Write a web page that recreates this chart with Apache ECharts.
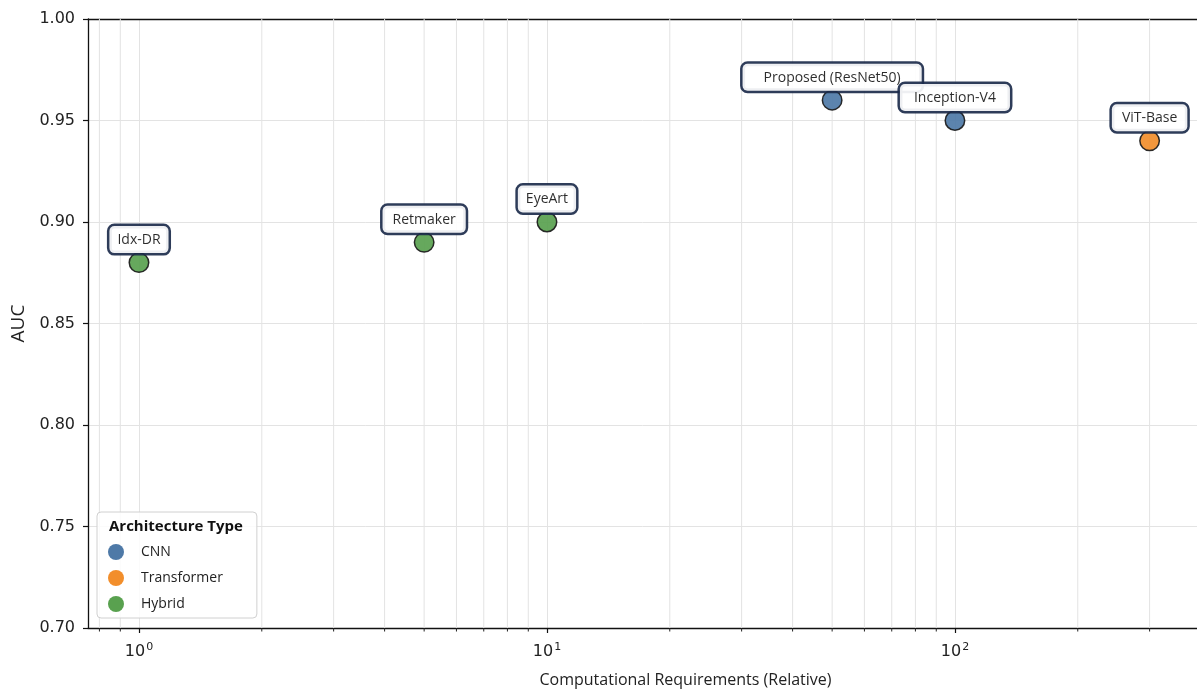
<!DOCTYPE html>
<html>
<head>
<meta charset="utf-8">
<script src="https://cdn.jsdelivr.net/npm/echarts@6/dist/echarts.min.js"></script>
<style>
html,body{margin:0;padding:0;background:#fff;}
#chart{width:1197px;height:691px;}
</style>
</head>
<body>
<div id="chart"></div>
<script>
// ---- data ----
const models = ['Idx-DR', 'Retmaker', 'EyeArt', 'Proposed (ResNet50)', 'Inception-V4', 'ViT-Base'];
const compute = [1, 5, 10, 50, 100, 300];
const auc = [0.88, 0.89, 0.90, 0.96, 0.95, 0.94];
const archType = ['Hybrid', 'Hybrid', 'Hybrid', 'CNN', 'CNN', 'Transformer'];
const archOrder = ['CNN', 'Transformer', 'Hybrid'];
const minorTickValues = [0.8, 0.9, 2, 3, 4, 5, 6, 7, 8, 9, 20, 30, 40, 50, 60, 70, 80, 90, 200, 300];
const yTicks = [0.70, 0.75, 0.80, 0.85, 0.90, 0.95, 1.00];

const colors = { CNN: '#4e79a7', Transformer: '#f28e2b', Hybrid: '#59a14f' };
const Y_MIN = 0.70, Y_MAX = 1.00;

const chart = echarts.init(document.getElementById('chart'), null, { renderer: 'canvas' });

function labelFor(name) {
  const padH = name.length + 2;
  return {
    show: true,
    position: 'top',
    distance: -1,
    formatter: name,
    fontFamily: 'Open Sans',
    fontSize: 14,
    lineHeight: 18,
    color: '#1a1a1a',
    backgroundColor: '#ffffff',
    borderColor: '#1c2b4b',
    borderWidth: 2.5,
    borderRadius: 5,
    padding: [5, padH, 4, padH]
  };
}

const scatterSeries = archOrder.map(t => ({
  name: t,
  type: 'scatter',
  symbol: 'circle',
  symbolSize: 19.5,
  z: 5,
  itemStyle: { color: colors[t], borderColor: '#1a1a1a', borderWidth: 1.5, opacity: 0.92 },
  data: models.map((m, i) => ({ m, i })).filter(o => archType[o.i] === t).map(o => ({
    name: o.m,
    value: [compute[o.i], auc[o.i]],
    label: labelFor(o.m)
  })),
  emphasis: { disabled: true }
}));

const minorSeries = {
  type: 'custom',
  name: 'minor',
  silent: true,
  z: 1,
  clip: false,
  data: minorTickValues.map(v => [v, Y_MIN]),
  renderItem: function (params, api) {
    const b = api.coord([api.value(0), Y_MIN]);
    const t = api.coord([api.value(0), Y_MAX]);
    return {
      type: 'group',
      children: [
        { type: 'line', shape: { x1: b[0], y1: b[1], x2: t[0], y2: t[1] }, style: { stroke: '#e3e3e3', lineWidth: 1 } },
        { type: 'line', shape: { x1: b[0], y1: b[1], x2: b[0], y2: b[1] + 3.5 }, style: { stroke: '#222', lineWidth: 1 } }
      ]
    };
  }
};

const option = {
  animation: false,
  backgroundColor: '#ffffff',
  grid: { left: 88, right: 0, top: 19, bottom: 63, containLabel: false, outerBoundsMode: 'none' },
  title: {
    text: 'Architecture Type',
    left: 109, top: 519,
    textStyle: { fontFamily: 'Open Sans', fontWeight: 'bold', fontSize: 15, color: '#111' },
    padding: 0,
    z: 10
  },
  legend: {
    data: archOrder,
    orient: 'vertical',
    left: 97, top: 512,
    padding: [32, 34, 6, 11],
    itemWidth: 26, itemHeight: 16, itemGap: 10,
    icon: 'circle',
    itemStyle: { borderWidth: 0, opacity: 1 },
    backgroundColor: 'rgba(255,255,255,0.85)',
    borderColor: '#d0d0d0', borderWidth: 1, borderRadius: 4,
    textStyle: { fontFamily: 'Open Sans', fontSize: 14, color: '#222', padding: [0, 0, 0, 7] },
    z: 8
  },
  xAxis: [{
    type: 'log',
    logBase: 10,
    min: 0.75,
    max: 392,
    name: 'Computational Requirements (Relative)',
    nameLocation: 'middle',
    nameGap: 44,
    nameTextStyle: { fontFamily: 'Open Sans', fontSize: 16, color: '#222', padding: [0, 0, 0, 86] },
    axisLine: { show: true, onZero: false, lineStyle: { color: '#111', width: 1.3 } },
    axisTick: { show: true, inside: false, length: 5, lineStyle: { color: '#111', width: 1.2 } },
    splitLine: { show: true, lineStyle: { color: '#e3e3e3', width: 1 } },
    axisLabel: {
      margin: 14,
      fontFamily: 'DejaVu Sans', fontSize: 16, color: '#222',
      showMinLabel: false, showMaxLabel: false,
      formatter: function (v) {
        const e = Math.log10(v);
        const r = Math.round(e);
        if (Math.abs(e - r) > 1e-6) return '';
        return '10{sup|' + r + '}';
      },
      rich: { sup: { fontFamily: 'DejaVu Sans', fontSize: 11, verticalAlign: 'top', padding: [0, 0, 8, 1], color: '#222' } }
    }
  }, {
    type: 'value',
    position: 'top',
    min: 0, max: 1,
    axisLine: { show: true, onZero: false, lineStyle: { color: '#111', width: 1.3 } },
    axisTick: { show: false }, axisLabel: { show: false }, splitLine: { show: false }
  }],
  yAxis: {
    type: 'value',
    min: Y_MIN, max: Y_MAX, interval: 0.05,
    name: 'AUC',
    nameLocation: 'middle',
    nameGap: 57,
    nameTextStyle: { fontFamily: 'Open Sans', fontSize: 19, color: '#222' },
    axisLine: { show: true, onZero: false, lineStyle: { color: '#111', width: 1.3 } },
    axisTick: { show: true, length: 5, lineStyle: { color: '#111', width: 1.2 } },
    splitLine: { show: true, lineStyle: { color: '#e3e3e3', width: 1 } },
    axisLabel: {
      margin: 13,
      fontFamily: 'DejaVu Sans', fontSize: 16, color: '#222',
      formatter: v => {
        const m = yTicks.find(t => Math.abs(t - v) < 1e-9);
        return m !== undefined ? m.toFixed(2) : '';
      }
    }
  },
  series: [minorSeries].concat(scatterSeries)
};

chart.setOption(option);
</script>
</body>
</html>
